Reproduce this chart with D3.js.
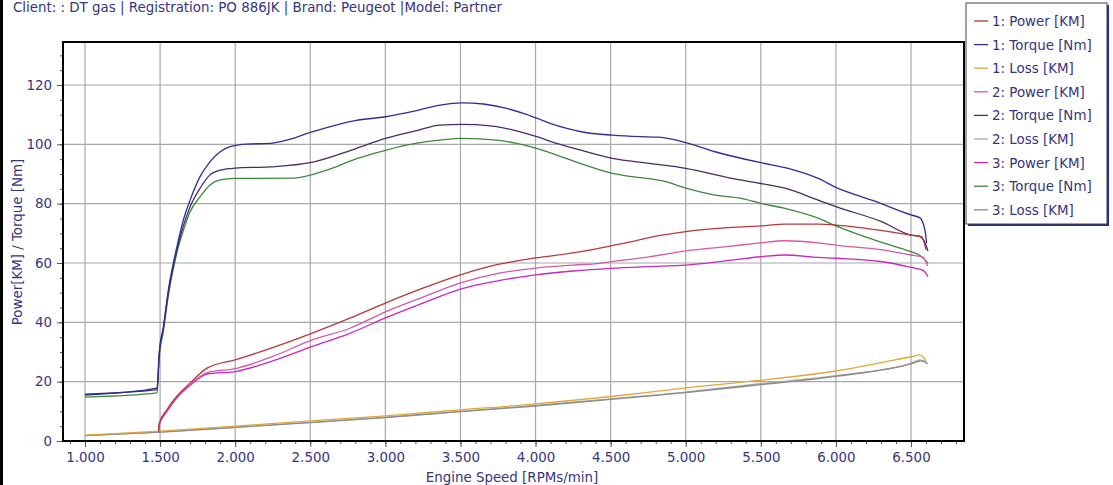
<!DOCTYPE html>
<html>
<head>
<meta charset="utf-8">
<script src="https://cdn.jsdelivr.net/npm/d3@7"></script>
<style>
  body { margin: 0; background: #fff; }
  text { font-family: "DejaVu Sans", Verdana, sans-serif; }
</style>
</head>
<body>
<script>
// series data: [rpm, value]
const power1 = [[1490,3],[1495,6],[1544,10.4],[1610,15],[1700,19.5],[1810,24.5],[2010,27.5],[2250,31.5],[2509,36.3],[2764,41.4],[3000,46.5],[3250,51.5],[3500,56],[3750,59.5],[4000,61.7],[4250,63.4],[4427,65],[4600,66.8],[4821,69.2],[5000,70.6],[5306,72],[5500,72.5],[5660,73.1],[5882,73.1],[6000,72.8],[6200,71.7],[6500,69.4],[6570,68.9],[6600,64.4]];
const torque1 = [[1000,15.5],[1480,17.8],[1494,29.6],[1522,38.5],[1555,50.9],[1588,59.9],[1622,67.7],[1655,74.5],[1700,81.2],[1766,89.1],[1832,94.1],[1900,97.5],[1966,99.2],[2077,100.1],[2232,100.3],[2350,101.5],[2500,104],[2800,108],[3000,109.3],[3200,111.3],[3364,113.2],[3509,114],[3653,113.6],[3808,112.1],[3919,110.4],[4008,108.8],[4097,107.1],[4208,105.4],[4341,103.9],[4512,103.1],[4697,102.6],[4821,102.4],[5000,100.6],[5195,97.5],[5500,93.8],[5682,91.9],[5882,88.5],[6000,85.5],[6250,81],[6500,76.2],[6560,75.2],[6593,71],[6604,66.7]];
const loss1 = [[1000,2],[1500,3.3],[2000,5],[2500,6.8],[3000,8.5],[3500,10.5],[4000,12.5],[4500,15],[5000,17.9],[5500,20.5],[6000,23.6],[6500,28.4],[6560,29],[6600,27]];
const power2 = [[1490,3.5],[1495,6],[1544,10.2],[1610,14.8],[1700,19],[1810,23],[2010,24.5],[2250,28.5],[2509,34],[2764,38],[3000,43.5],[3250,48.5],[3500,53.3],[3750,56.5],[4000,58.3],[4250,59.3],[4427,59.9],[4500,60.4],[4755,62.1],[5000,64.1],[5306,65.7],[5500,66.8],[5660,67.5],[5882,66.8],[6000,66],[6300,64.5],[6500,62.7],[6580,62],[6610,59]];
const torque2 = [[1000,15.8],[1480,17.3],[1494,29],[1522,38],[1555,50],[1588,59],[1622,66.5],[1655,72.5],[1700,79],[1766,85.2],[1832,89.7],[1900,91.3],[2000,92],[2232,92.4],[2500,93.8],[2800,98.5],[3000,102],[3200,104.5],[3364,106.5],[3509,106.7],[3698,106.2],[3853,104.8],[4008,102.6],[4141,100.3],[4297,98.1],[4512,95.3],[4755,93.6],[5000,91.9],[5306,88.5],[5500,86.8],[5660,85.2],[5882,81.2],[6000,79],[6300,74],[6500,69.4],[6560,68.9],[6590,67.2],[6613,64]];
const loss2 = [[1000,1.8],[1500,3],[2000,4.6],[2500,6.3],[3000,8],[3500,10],[4000,12],[4500,14.2],[5000,16.5],[5500,19.3],[6000,22],[6500,26.2],[6560,27.3],[6610,26.3]];
const power3 = [[1490,3.5],[1495,5.5],[1544,9.8],[1610,14.5],[1700,18.8],[1810,22.5],[2010,23.5],[2250,27],[2509,31.8],[2764,36.3],[3000,41.5],[3250,46.5],[3500,51.2],[3750,54],[4000,56],[4250,57.3],[4500,58.2],[4750,58.8],[5000,59.3],[5306,61],[5500,62.1],[5660,62.7],[5882,61.9],[6000,61.6],[6300,60.5],[6500,58.5],[6580,57.5],[6613,55.4]];
const torque3 = [[1000,14.8],[1480,16.2],[1494,28],[1522,37],[1555,49],[1588,58],[1622,65.5],[1655,71],[1700,77.3],[1766,82.3],[1832,86.3],[1900,88],[2000,88.5],[2390,88.6],[2610,91.3],[2800,95],[3000,98],[3200,100.3],[3364,101.4],[3509,102],[3742,101.4],[3875,100.3],[4008,98.6],[4141,96.4],[4297,93.6],[4512,90.2],[4644,89.1],[4866,87.4],[5000,85.2],[5195,82.9],[5370,81.8],[5500,80.1],[5660,78.4],[5882,75.1],[6000,72.5],[6300,67],[6500,63.8],[6560,62.5],[6613,59.9]];
const loss3 = [[1000,1.8],[1500,3],[2000,4.6],[2500,6.2],[3000,7.9],[3500,9.9],[4000,11.8],[4500,14],[5000,16.3],[5500,19],[6000,21.8],[6500,26],[6570,27],[6610,26]];

const seriesNames = ["1: Power [KM]", "1: Torque [Nm]", "1: Loss [KM]", "2: Power [KM]", "2: Torque [Nm]", "2: Loss [KM]", "3: Power [KM]", "3: Torque [Nm]", "3: Loss [KM]"];
const seriesData = [power1, torque1, loss1, power2, torque2, loss2, power3, torque3, loss3];
const seriesColors = ["#b83838", "#2e2e96", "#e0a838", "#d858a8", "#4a2a66", "#a8a8a8", "#c828c0", "#3a8a3a", "#8c8c8c"];

const xTicks = [1000, 1500, 2000, 2500, 3000, 3500, 4000, 4500, 5000, 5500, 6000, 6500];
const yTicks = [0, 20, 40, 60, 80, 100, 120];

const width = 1113, height = 485;
const plot = {left: 63, right: 964, top: 42, bottom: 441};
const textColor = "#353580";
const fontSize = 13.4;

const svg = d3.select("body").append("svg")
    .attr("width", width)
    .attr("height", height);

// scales: 1000 -> 85px, 6500 -> 911px ; 0 -> 441px, 120 -> 85px
const pxPerRpm = (911 - 85) / 5500;
const x = d3.scaleLinear()
    .domain([1000 - (85 - plot.left) / pxPerRpm, 6500 + (plot.right - 911) / pxPerRpm])
    .range([plot.left, plot.right]);
const pxPerUnit = (441 - 85) / 120;
const y = d3.scaleLinear()
    .domain([0, (plot.bottom - plot.top) / pxPerUnit])
    .range([plot.bottom, plot.top]);

// outer left edge
svg.append("line")
    .attr("x1", 1.5).attr("x2", 1.5).attr("y1", 0).attr("y2", height)
    .attr("stroke", "#000").attr("stroke-width", 3);

// title
svg.append("text")
    .attr("x", 13).attr("y", 12)
    .attr("font-size", fontSize)
    .attr("fill", textColor)
    .text("Client: : DT gas | Registration: PO 886JK | Brand: Peugeot |Model: Partner");

// grid
svg.append("g").selectAll("line")
    .data(xTicks)
    .enter().append("line")
    .attr("x1", d => x(d)).attr("x2", d => x(d))
    .attr("y1", plot.top).attr("y2", plot.bottom)
    .attr("stroke", "#a8a8a8").attr("stroke-width", 1.2);
svg.append("g").selectAll("line")
    .data(yTicks.slice(1))
    .enter().append("line")
    .attr("x1", plot.left).attr("x2", plot.right)
    .attr("y1", d => y(d)).attr("y2", d => y(d))
    .attr("stroke", "#a8a8a8").attr("stroke-width", 1.2);

// axes with minor ticks
const xAxis = svg.append("g")
    .attr("transform", "translate(0," + plot.bottom + ")")
    .call(d3.axisBottom(x).tickValues(d3.range(900, 6900, 100)).tickSize(3).tickFormat(""));
const xMajor = svg.append("g")
    .attr("transform", "translate(0," + plot.bottom + ")")
    .call(d3.axisBottom(x).tickValues(xTicks).tickSize(6).tickPadding(5)
        .tickFormat(d => d3.format(",")(d).replace(",", ".")));
const yAxis = svg.append("g")
    .attr("transform", "translate(" + plot.left + ",0)")
    .call(d3.axisLeft(y).tickValues(d3.range(0, 135, 5)).tickSize(3).tickFormat(""));
const yMajor = svg.append("g")
    .attr("transform", "translate(" + plot.left + ",0)")
    .call(d3.axisLeft(y).tickValues(yTicks).tickSize(6).tickPadding(5));

[xAxis, xMajor, yAxis, yMajor].forEach(g => {
    g.select(".domain").remove();
    g.selectAll(".tick line").attr("stroke", "#555");
    g.selectAll("text").attr("fill", textColor).attr("font-size", fontSize)
        .attr("font-family", "'DejaVu Sans', Verdana, sans-serif");
});

// lines
const line = d3.line()
    .x(d => x(d[0]))
    .y(d => y(d[1]))
    .curve(d3.curveMonotoneX);

const drawOrder = [5, 8, 2, 7, 4, 1, 6, 3, 0];
svg.append("g").selectAll("path")
    .data(drawOrder)
    .enter().append("path")
    .attr("d", i => line(seriesData[i]))
    .attr("fill", "none")
    .attr("stroke", i => seriesColors[i])
    .attr("stroke-width", 1.3);

// plot frame
svg.append("rect")
    .attr("x", plot.left).attr("y", plot.top)
    .attr("width", plot.right - plot.left).attr("height", plot.bottom - plot.top)
    .attr("fill", "none").attr("stroke", "#000").attr("stroke-width", 2);

// axis titles
svg.append("text")
    .attr("x", 512).attr("y", 482)
    .attr("text-anchor", "middle")
    .attr("font-size", fontSize)
    .attr("fill", textColor)
    .text("Engine Speed [RPMs/min]");
svg.append("text")
    .attr("transform", "translate(22,242) rotate(-90)")
    .attr("text-anchor", "middle")
    .attr("font-size", fontSize)
    .attr("fill", textColor)
    .text("Power[KM] / Torque [Nm]");

// legend
const legend = svg.append("g").attr("transform", "translate(966,3)");
legend.append("rect")
    .attr("x", 2).attr("y", 2).attr("width", 141).attr("height", 221)
    .attr("fill", "#1c2a9a");
legend.append("rect")
    .attr("x", 0).attr("y", 0).attr("width", 141).attr("height", 221)
    .attr("fill", "#fff").attr("stroke", "#444").attr("stroke-width", 1);
const items = legend.selectAll(".item")
    .data(seriesNames)
    .enter().append("g")
    .attr("class", "item")
    .attr("transform", (d, i) => "translate(0," + (18 + i * 23.6) + ")");
items.append("line")
    .attr("x1", 8).attr("x2", 22).attr("y1", 0).attr("y2", 0)
    .attr("stroke", (d, i) => seriesColors[i]).attr("stroke-width", 1.3);
items.append("text")
    .attr("x", 26).attr("y", 5)
    .attr("font-size", fontSize)
    .attr("fill", textColor)
    .text(d => d);
</script>
</body>
</html>
